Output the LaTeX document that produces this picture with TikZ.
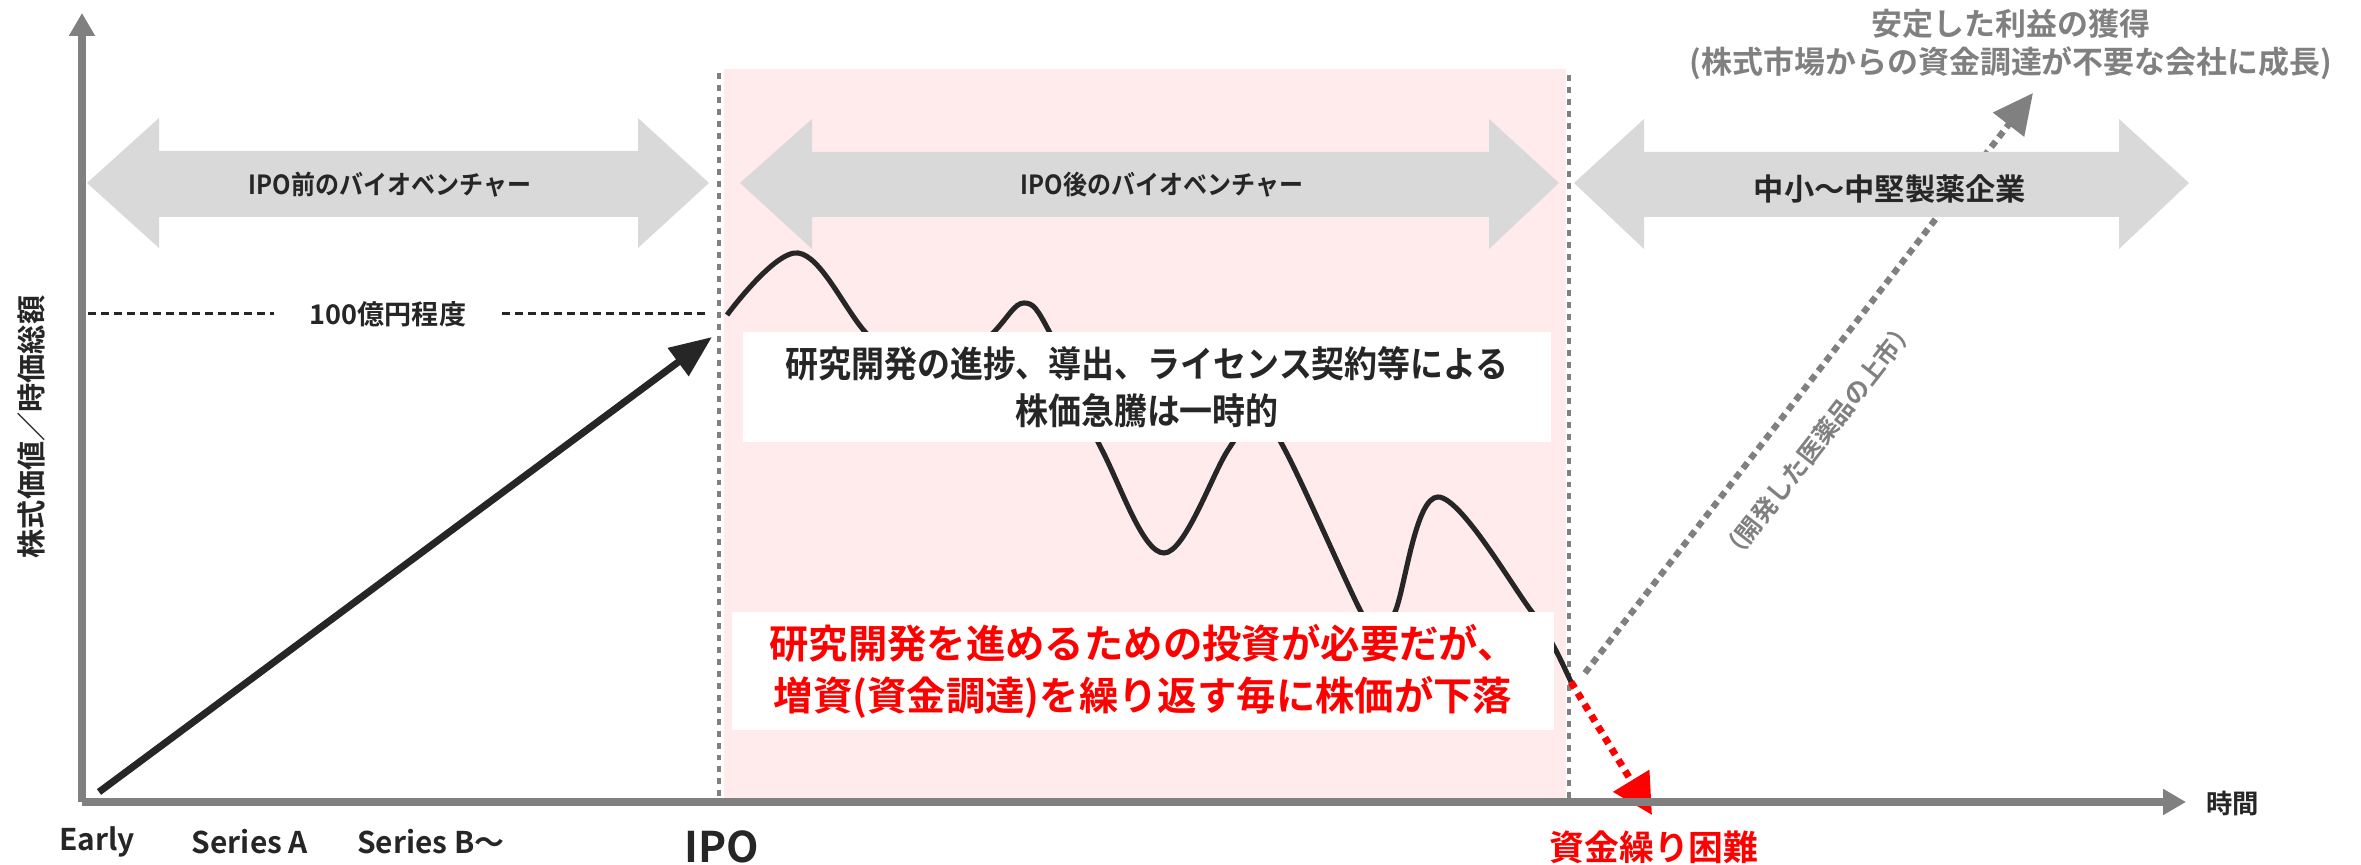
\documentclass[tikz,border=0pt]{standalone}
\usepackage{fontspec}
\setmainfont{Noto Sans CJK JP}[BoldFont={Noto Sans CJK JP Bold}]
\newfontfamily\jpnarrow{Noto Sans CJK JP Bold}[FakeStretch=0.91]
\usetikzlibrary{arrows.meta}
\definecolor{axisgray}{RGB}{128,128,128}
\definecolor{bandgray}{RGB}{217,217,217}
\definecolor{pinkbg}{RGB}{255,235,235}
\definecolor{ink}{RGB}{38,38,38}
\definecolor{txtgray}{RGB}{128,128,128}
\definecolor{alertred}{RGB}{255,0,0}
\newcommand{\fsz}[2]{\fontsize{#1}{#2}\selectfont}
\tikzset{
  axisline/.style={draw=axisgray, line width=2.3pt, -{Triangle[length=6.5pt,width=7pt]}},
  band/.style={fill=bandgray},
  bandlabel/.style={text=ink, font=\jpnarrow\fsz{7.5}{8}},
  sepline/.style={draw=axisgray, line width=1.4pt, dash pattern=on 1.7pt off 1.7pt},
  levelline/.style={draw=ink, line width=0.85pt, dash pattern=on 2.3pt off 1.4pt},
  pricecurve/.style={draw=ink, line width=1.45pt},
  whitebox/.style={fill=white, inner sep=0pt, align=center},
  ticklabel/.style={text=ink, font=\bfseries\fsz{8.5}{10}},
}
\begin{document}
\begin{tikzpicture}[x=0.01cm, y=-0.01cm, font=\bfseries]
\useasboundingbox (0,0) rectangle (2361,865);

% pink post-IPO zone
\fill[pinkbg] (724,69) rectangle (1566,798);

% separators
\draw[sepline] (719,73) -- (719,800);
\draw[sepline] (1569,75) -- (1569,800);

% gray dotted growth arrow (below bands)
\coordinate (gstart) at (1585,673);
\coordinate (gend) at (2033,93);
\draw[draw=axisgray, line width=1.8pt, dash pattern=on 2pt off 1.5pt,
  -{Triangle[length=11.4pt,width=10.8pt,fill=axisgray]}] (gstart) -- (gend);

% double arrows
\fill[band] (87,183) -- (159,118) -- (159,151) -- (638,151) -- (638,118) -- (709,183)
  -- (638,248) -- (638,217) -- (159,217) -- (159,248) -- cycle;
\fill[band] (740,183) -- (812,119) -- (812,152) -- (1489,152) -- (1489,119) -- (1559,183)
  -- (1489,249) -- (1489,217) -- (812,217) -- (812,249) -- cycle;
\fill[band] (1574,183) -- (1644,119) -- (1644,152) -- (2119,152) -- (2119,119) -- (2189,183)
  -- (2119,249) -- (2119,217) -- (1644,217) -- (1644,249) -- cycle;
\node[bandlabel] (preipo) at (390,185) {IPO前のバイオベンチャー};
\node[bandlabel] (postipo) at (1162,185) {IPO後のバイオベンチャー};
\node[text=ink, font=\bfseries\fsz{8.6}{9}] (pharma) at (1890,189) {中小～中堅製薬企業};

% 100 oku level
\node[text=ink, font=\bfseries\fsz{7.7}{9}, inner xsep=10pt] (level) at (388,314) {100億円程度};
\coordinate (levL) at (88,314);
\coordinate (levR) at (709,314);
\draw[levelline] (levL) -- (level.west);
\draw[levelline] (level.east) -- (levR);

% price curve
\draw[pricecurve] plot[smooth, tension=0.6] coordinates {
 (727,315) (798,253) (866,333) (930,400) (993,333) (1024,303) (1050,333)
 (1102,450) (1164,553) (1228,450) (1256,415) (1285,450) (1360,610) (1378,635)
 (1395,612) (1438,497) (1532,612) (1554,647) (1571,682)};
\coordinate (cend) at (1571,682);

% red dotted arrow
\coordinate (rend) at (1652,815);
\draw[draw=alertred, line width=2pt, dash pattern=on 2pt off 1.7pt,
  -{Triangle[length=11.4pt,width=11.6pt,fill=alertred]}] (cend) -- (rend);

% black growth arrow
\coordinate (bstart) at (99,792);
\coordinate (bend) at (712,337);
\draw[draw=ink, line width=2pt, -{Triangle[length=12pt,width=9.5pt,fill=ink]}] (bstart) -- (bend);

% boxes
\node[whitebox, minimum width=8.08cm, minimum height=1.10cm, text=ink,
  font=\jpnarrow\fsz{10.3}{13.4}] (box1) at (1147,387)
  {研究開発の進捗、導出、ライセンス契約等による\\株価急騰は一時的};
\node[whitebox, minimum width=8.22cm, minimum height=1.18cm, text=alertred,
  font=\bfseries\fsz{11.2}{14.8}] (box2) at (1143,671)
  {研究開発を進めるための投資が必要だが、\\増資(資金調達)を繰り返す毎に株価が下落};

% axes
\coordinate (origin) at (82,802);
\coordinate (ytop) at (82,13);
\coordinate (xend) at (2186,802);
\draw[axisline] (origin) -- (ytop);
\draw[axisline] (origin) -- (xend);

% axis labels
\node[text=ink, font=\bfseries\fsz{8.3}{9}, rotate=90] (ylab) at (31,427) {株式価値／時価総額};
\node[text=ink, font=\bfseries\fsz{7.5}{9}, anchor=west] (xlab) at (2194,803) {時間};
\node[ticklabel] (early) at (97,842) {Early};
\node[ticklabel] (sera) at (250,842) {Series A};
\node[ticklabel] (serb) at (431,842) {Series B～};
\node[text=ink, font=\bfseries\fsz{12}{14}] (ipo) at (722,847) {IPO};
\node[text=alertred, font=\bfseries\fsz{9.9}{11}] (crisis) at (1654,847) {資金繰り困難};

% gray annotations
\node[text=txtgray, font=\bfseries\fsz{8.8}{10.8}, align=center] (goal) at (2011,44)
  {安定した利益の獲得\\(株式市場からの資金調達が不要な会社に成長)};
\node[text=txtgray, font=\bfseries\fsz{7.1}{8}, rotate=52] (launch) at (1818,441)
  {（開発した医薬品の上市）};
\end{tikzpicture}
\end{document}
